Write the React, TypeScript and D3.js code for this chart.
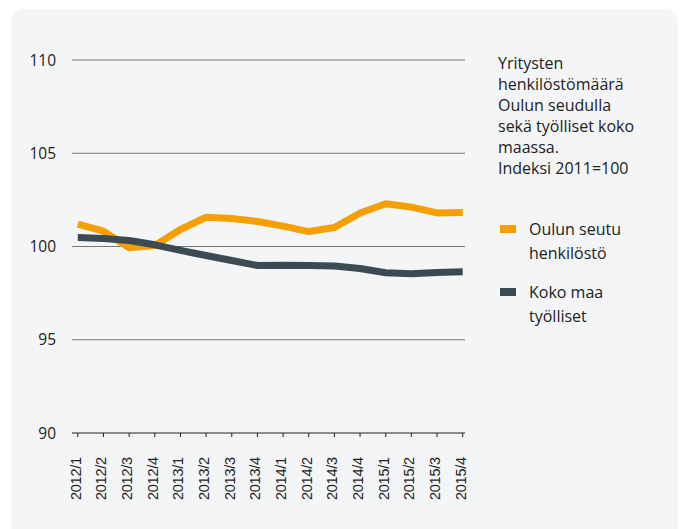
import React from "react";
import * as d3 from "d3";

const categories = ["2012/1","2012/2","2012/3","2012/4","2013/1","2013/2","2013/3","2013/4","2014/1","2014/2","2014/3","2014/4","2015/1","2015/2","2015/3","2015/4"];
const oulu = [101.2,100.82,99.93,100.05,100.91,101.57,101.5,101.34,101.09,100.8,101.02,101.8,102.29,102.11,101.8,101.82];
const koko = [100.48,100.43,100.32,100.09,99.79,99.52,99.25,98.98,99.0,98.98,98.95,98.82,98.59,98.54,98.61,98.64];
const yTicks = [90, 95, 100, 105, 110];
const titleLines = ["Yritysten", "henkilöstömäärä", "Oulun seudulla", "sekä työlliset koko", "maassa.", "Indeksi 2011=100"];
const legendItems = [
  { lines: ["Oulun seutu", "henkilöstö"], color: "#f59f00" },
  { lines: ["Koko maa", "työlliset"], color: "#3c4a52" },
];

const FONT = "'Open Sans', sans-serif";

export default function App() {
  const W = 681, H = 529;
  const x0 = 72, x1 = 465;
  const x = d3.scalePoint<string>().domain(categories).range([77.8, 462.7]);
  const y = d3.scaleLinear().domain([90, 110]).range([433, 60]);
  const line = d3.line<number>().x((_, i) => x(categories[i])!).y(d => y(d)).curve(d3.curveLinear);

  return (
    <svg width={W} height={H} style={{ position: "absolute", left: 0, top: 0 }} fontFamily={FONT}>
      <rect x={0} y={0} width={W} height={H} fill="#ffffff" />
      <rect x={11} y={9} width={667} height={560} rx={13} fill="#f4f5f7" />
      {yTicks.map(t => (
        <g key={t}>
          <line x1={x0} x2={x1} y1={y(t)} y2={y(t)} stroke={t === 90 ? "#222" : "#777"} strokeWidth={1} />
          <text x={56} y={y(t) + 5.5} textAnchor="end" fontSize={15.5} fill="#222">{t}</text>
        </g>
      ))}
      {categories.map(c => (
        <g key={c}>
          <line x1={x(c)} x2={x(c)} y1={433} y2={437} stroke="#222" strokeWidth={1} />
          <text transform={`translate(${x(c)! + 3},457) rotate(-90)`} textAnchor="end" fontSize={14.5}
            textLength={43} lengthAdjust="spacing"
            fontFamily="'Liberation Sans', Arial, sans-serif" fill="#222">{c}</text>
        </g>
      ))}
      <path d={line(oulu)!} fill="none" stroke="#f59f00" strokeWidth={7} strokeLinejoin="round" />
      <path d={line(koko)!} fill="none" stroke="#3c4a52" strokeWidth={7} strokeLinejoin="round" />
      {titleLines.map((l, i) => (
        <text key={i} x={498} y={69 + i * 21} fontSize={16} fill="#222">{l}</text>
      ))}
      {legendItems.map((it, k) => (
        <g key={k}>
          <rect x={500} y={225 + k * 63} width={16} height={8} fill={it.color} />
          {it.lines.map((l, i) => (
            <text key={i} x={529} y={235 + k * 63 + i * 24} fontSize={16} fill="#222">{l}</text>
          ))}
        </g>
      ))}
    </svg>
  );
}
